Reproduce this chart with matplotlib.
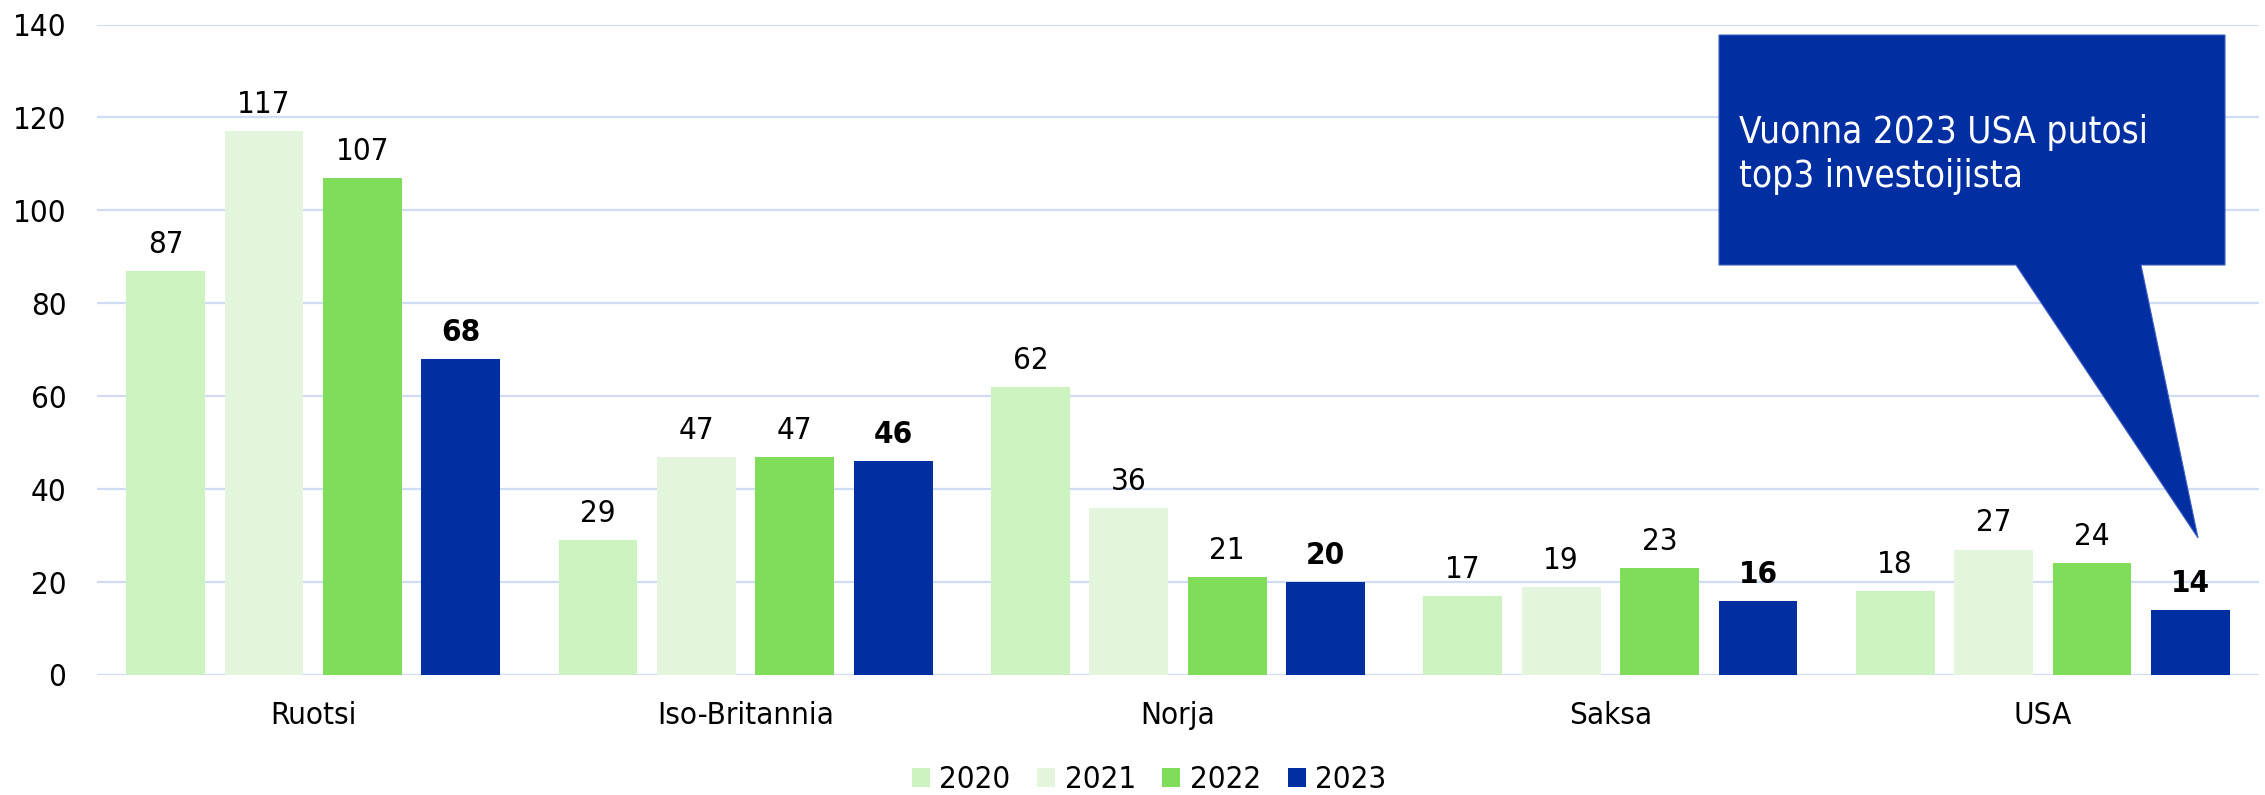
import matplotlib
matplotlib.use("Agg")
import matplotlib.pyplot as plt
import numpy as np
from matplotlib.patches import Polygon

plt.rcParams['font.family'] = ['DejaVu Sans']
plt.rcParams['font.stretch'] = 'condensed'

categories = ["Ruotsi", "Iso-Britannia", "Norja", "Saksa", "USA"]
years = ["2020", "2021", "2022", "2023"]
v2020 = [87, 29, 62, 17, 18]
v2021 = [117, 47, 36, 19, 27]
v2022 = [107, 47, 21, 23, 24]
v2023 = [68, 46, 20, 16, 14]
series = [v2020, v2021, v2022, v2023]
colors = ["#CCF2C0", "#E3F6DD", "#7FDD5A", "#012EA1"]
yticks = [0, 20, 40, 60, 80, 100, 120, 140]
callout_lines = ["Vuonna 2023 USA putosi", "top3 investoijista"]

W, H = 2265, 795
fig = plt.figure(figsize=(W / 100, H / 100), dpi=100)
ax = fig.add_axes([97 / W, 120 / H, (2259 - 97) / W, (675 - 24.5) / H])

x = np.arange(len(categories))
bw = 0.182
step = 0.2275
fs = 22.5
for i, (vals, col) in enumerate(zip(series, colors)):
    pos = x + (i - 1.5) * step
    bars = ax.bar(pos, vals, width=bw, color=col, label=years[i], zorder=2)
    for b, v in zip(bars, vals):
        ax.annotate(str(v), (b.get_x() + b.get_width() / 2, v),
                    xytext=(0, 13), textcoords="offset points",
                    ha="center", va="baseline", fontsize=fs,
                    fontweight="bold" if i == 3 else "normal", color="black")

ax.set_xlim(-0.5, len(categories) - 0.5)
ax.set_ylim(0, 140)
ax.set_yticks(yticks)
ax.set_xticks(x)
ax.set_xticklabels(categories)
ax.tick_params(axis="both", length=0, labelsize=fs)
ax.tick_params(axis="y", pad=22)
ax.tick_params(axis="x", pad=19)
for s in ax.spines.values():
    s.set_visible(False)
ax.yaxis.grid(True, color="#D0DCF6", linewidth=1.6, zorder=0)
ax.set_axisbelow(True)

fig.legend(loc="center", bbox_to_anchor=(1149 / W, 1 - 780 / H), ncol=4,
           frameon=False, fontsize=fs, handlelength=0.58, handleheight=0.58,
           handletextpad=0.3, columnspacing=0.85)

# Callout
pts_px = [(1719, 35), (2225, 35), (2225, 265), (2141, 265), (2198, 538),
          (2016, 265), (1719, 265)]
pts = [(px / W, 1 - py / H) for px, py in pts_px]
poly = Polygon(pts, closed=True, transform=fig.transFigure, facecolor="#012EA1",
               edgecolor="#3D5EC4", linewidth=0.8, zorder=5)
fig.patches.append(poly)
fig.text(1739 / W, 1 - 143 / H, callout_lines[0], color="white", fontsize=26.5,
         ha="left", va="baseline", zorder=6)
fig.text(1739 / W, 1 - 187 / H, callout_lines[1], color="white", fontsize=26.5,
         ha="left", va="baseline", zorder=6)

fig.savefig("out.png", dpi=100, facecolor="white")
